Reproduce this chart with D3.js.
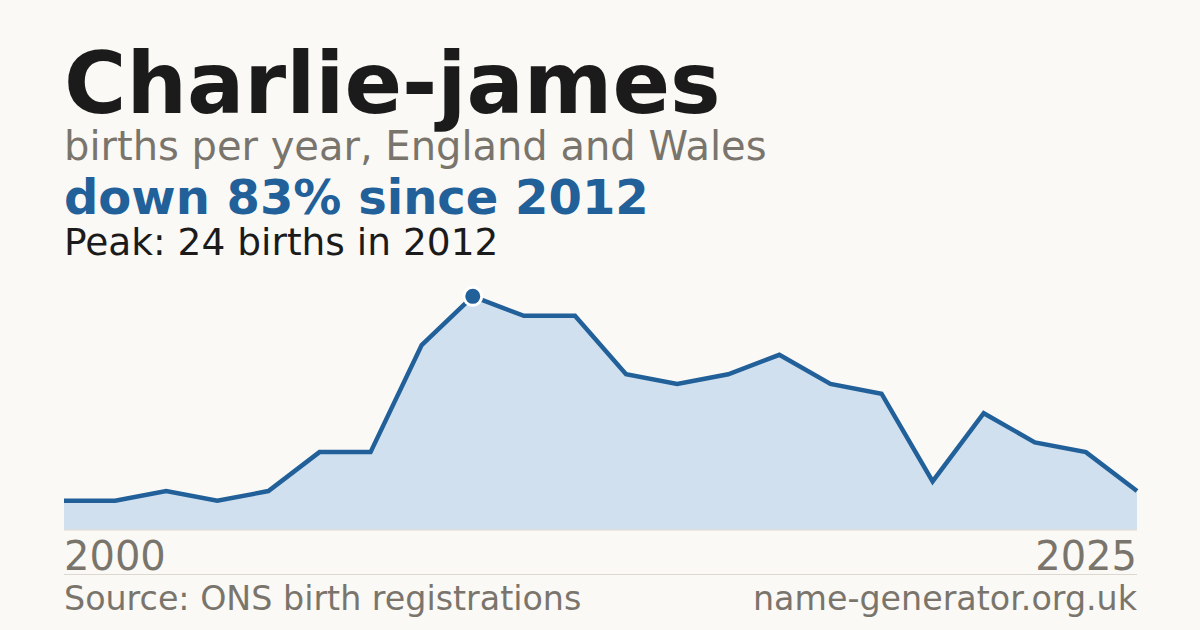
<!DOCTYPE html>
<html>
<head>
<meta charset="utf-8">
<script src="https://cdn.jsdelivr.net/npm/d3@7"></script>
<style>
  html, body { margin: 0; padding: 0; background: #faf9f5; }
  svg { display: block; }
  text { font-family: "DejaVu Sans", sans-serif; }
</style>
</head>
<body>
<svg id="chart" width="1200" height="630"></svg>
<script>
// data
const years = [2004, 2005, 2006, 2007, 2008, 2009, 2010, 2011, 2012, 2013, 2014,
  2015, 2016, 2017, 2018, 2019, 2020, 2021, 2022, 2023, 2024, 2025];
const births = [3, 3, 4, 3, 4, 8, 8, 19, 24, 22, 22, 16, 15, 16, 18, 15, 14, 5, 12, 9, 8, 4];
const axisLabels = ["2000", "2025"];

const title = "Charlie-james";
const subtitle = "births per year, England and Wales";
const headline = "down 83% since 2012";
const peakNote = "Peak: 24 births in 2012";
const source = "Source: ONS birth registrations";
const site = "name-generator.org.uk";

const blue = "#22609a";
const grey = "#7a756c";

const svg = d3.select("#chart");
const plot = {left: 64, right: 1137, bottom: 530, top: 273};

const data = years.map((yr, i) => ({year: yr, value: births[i]}));

const x = d3.scaleLinear()
    .domain(d3.extent(years))
    .range([plot.left, plot.right]);
const y = d3.scaleLinear()
    .domain([0, d3.max(births) * 1.1])
    .range([plot.bottom, plot.top]);

// header texts
svg.append("text").attr("x", plot.left).attr("y", 113)
    .attr("font-size", 85).attr("font-weight", "bold").attr("fill", "#1b1b1b")
    .text(title);
svg.append("text").attr("x", plot.left).attr("y", 160)
    .attr("font-size", 40).attr("fill", grey)
    .text(subtitle);
svg.append("text").attr("x", plot.left).attr("y", 214)
    .attr("font-size", 48).attr("font-weight", "bold").attr("fill", blue)
    .text(headline);
svg.append("text").attr("x", plot.left).attr("y", 255)
    .attr("font-size", 37.5).attr("fill", "#1b1b1b")
    .text(peakNote);

// area + line
const area = d3.area()
    .x(d => x(d.year))
    .y0(y(0))
    .y1(d => y(d.value));
const line = d3.line()
    .x(d => x(d.year))
    .y(d => y(d.value));

svg.append("path").datum(data)
    .attr("d", area)
    .attr("fill", "#d0e0ef");

svg.append("line")
    .attr("x1", plot.left).attr("x2", plot.right)
    .attr("y1", y(0)).attr("y2", y(0))
    .attr("stroke", "#e6ddd0").attr("stroke-width", 1);

svg.append("path").datum(data)
    .attr("d", line)
    .attr("fill", "none")
    .attr("stroke", blue)
    .attr("stroke-width", 4.5)
    .attr("stroke-linejoin", "miter");

// peak marker
const peak = data[d3.maxIndex(data, d => d.value)];
svg.append("circle")
    .attr("cx", x(peak.year)).attr("cy", y(peak.value))
    .attr("r", 9)
    .attr("fill", blue)
    .attr("stroke", "#ffffff").attr("stroke-width", 3);

// axis end labels
svg.append("text").attr("x", plot.left).attr("y", 570)
    .attr("font-size", 40).attr("fill", grey)
    .text(axisLabels[0]);
svg.append("text").attr("x", plot.right).attr("y", 570)
    .attr("text-anchor", "end")
    .attr("font-size", 40).attr("fill", grey)
    .text(axisLabels[1]);

// footer
svg.append("line")
    .attr("x1", plot.left).attr("x2", plot.right)
    .attr("y1", 574.5).attr("y2", 574.5)
    .attr("stroke", "#dcd8d0").attr("stroke-width", 1);
svg.append("text").attr("x", plot.left).attr("y", 610)
    .attr("font-size", 33.3).attr("fill", grey)
    .text(source);
svg.append("text").attr("x", plot.right).attr("y", 610)
    .attr("text-anchor", "end")
    .attr("font-size", 33.3).attr("fill", grey)
    .text(site);
</script>
</body>
</html>
